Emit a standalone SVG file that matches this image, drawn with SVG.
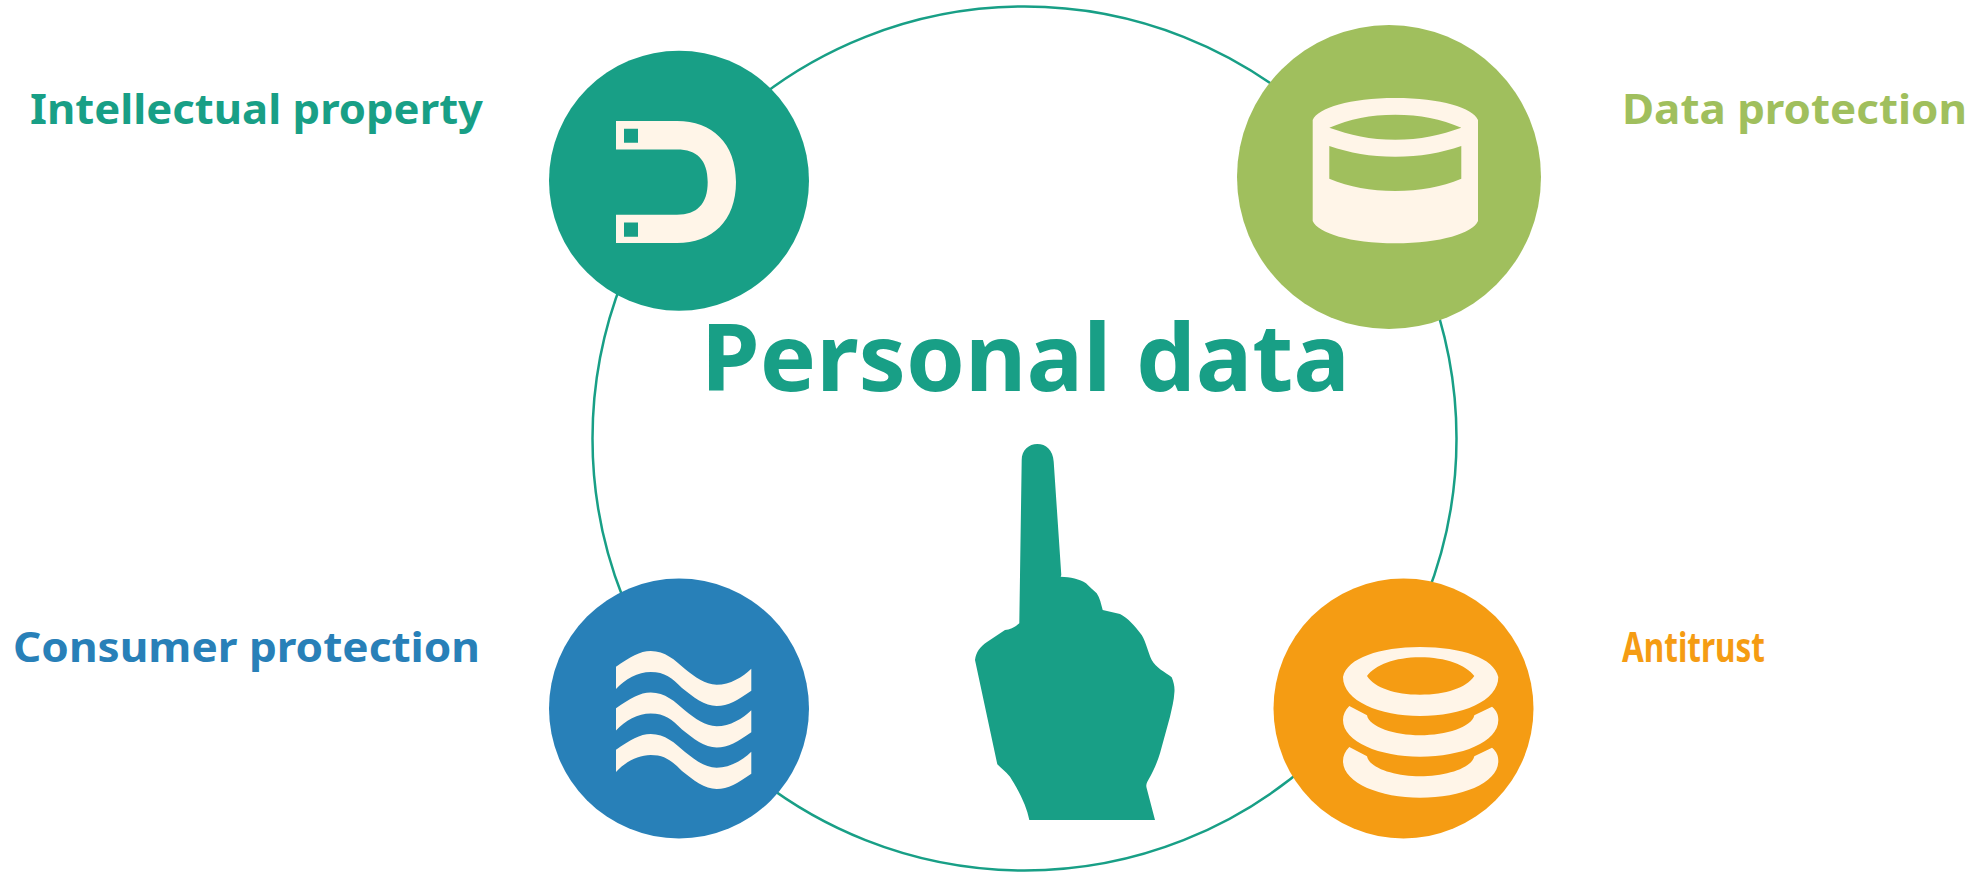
<svg xmlns="http://www.w3.org/2000/svg" width="1982" height="872" viewBox="0 0 1982 872">
<style>
.lbl{font-family:"Noto Sans","Open Sans",sans-serif;font-weight:700;font-size:41px}
.ico{fill:#fff5e8;fill-rule:evenodd}
</style>
<rect width="1982" height="872" fill="#fff"/>
<g id="connectors"><circle cx="1024.5" cy="438.5" r="432" fill="none" stroke="#189f86" stroke-width="2.5"/></g>
<g id="ip">
<circle cx="679" cy="180.7" r="130" fill="#189f86"/>
<path class="ico" d="M616 121H677C712 121 736 143 736 182C736 221 712 243 677 243H616V214.7H677C697 214.7 707.7 204 707.7 182C707.7 160 697 149.5 677 149.5H616ZM624 128.7V142.7H638V128.7ZM624 222.5V236.7H638V222.5Z"/>
<text class="lbl" x="30" y="124" fill="#189f86" textLength="453" lengthAdjust="spacingAndGlyphs">Intellectual property</text>
</g>
<g id="data">
<circle cx="1389" cy="177" r="152" fill="#a0bf5d"/>
<path class="ico" d="M1312.7 120C1318 108 1350 98 1395.3 98C1441 98 1473 108 1478 120V221C1473 233 1441 243.3 1395.3 243.3C1350 243.3 1318 233 1312.7 221ZM1329.3 127.7C1350 135 1370 139.7 1395.3 139.7C1420 139.7 1441 135 1461.3 127.7C1441 119 1420 114.7 1395.3 114.7C1370 114.7 1350 119 1329.3 127.7ZM1329.3 146V178.7C1350 187 1370 191 1395.3 191C1420 191 1441 187 1461.3 178.7V146C1441 153 1420 156.7 1395.3 156.7C1370 156.7 1350 153 1329.3 146Z"/>
<text class="lbl" x="1622" y="124" fill="#a0bf5d" textLength="345" lengthAdjust="spacingAndGlyphs">Data protection</text>
</g>
<g id="consumer">
<circle cx="679" cy="708.5" r="130" fill="#2880b8"/>
<path id="wave" class="ico" d="M616 666.7C630 657 640 651 650.7 651C665 651 675 660 685 669C695 677 705 684.7 716.7 684.7C730 684.7 743 677 751.3 668.7V690.7C738 700 728 706 716.7 706C705 706 693 697 682 688C672 678 665 672 650.7 672C638 672 625 679 616 689Z"/>
<path class="ico" d="M616 708.2C630 698.5 640 692.5 650.7 692.5C665 692.5 675 701.500 685 710.500C695 718.500 705 726.200 716.700 726.200C730 726.200 743 718.500 751.300 710.200V732.200C738 741.500 728 747.500 716.700 747.500C705 747.500 693 738.500 682 729.500C672 719.500 665 713.500 650.700 713.500C638 713.500 625 720.500 616 730.500Z"/>
<path class="ico" d="M616 749.700C630 740 640 734 650.700 734C665 734 675 743 685 752C695 760 705 767.700 716.700 767.700C730 767.700 743 760 751.300 751.700V773.700C738 783 728 789 716.700 789C705 789 693 780 682 771C672 761 665 755 650.700 755C638 755 625 762 616 772Z"/>
<text class="lbl" x="13" y="662" fill="#2880b8" textLength="467" lengthAdjust="spacingAndGlyphs">Consumer protection</text>
</g>
<g id="antitrust">
<circle cx="1403.500" cy="708.500" r="130" fill="#f59c13"/>
<path class="ico" d="M1343 677C1347 658 1380 647 1420 647C1462 647 1494 658 1498.300 677C1498.300 701 1462 716 1420 716C1380 716 1343 701 1343 677ZM1367 676C1375 688 1395 694.700 1420 694.700C1446 694.700 1466 688 1474.300 676C1466 665 1446 657.300 1420 657.300C1395 657.300 1375 665 1367 676Z"/>
<path class="ico" d="M1349.300 706L1367 715.300C1369 727 1395 735.300 1420 735.300C1446 735.300 1472 727 1474.300 715.300L1492 706.700C1497 711 1498.300 715 1498.300 720C1498.300 742 1462 756.700 1420 756.700C1380 756.700 1343 742 1343 720C1343 715 1345 710 1349.300 706Z"/>
<path class="ico" d="M1349.300 747L1367 756.300C1369 768 1395 776.300 1420 776.300C1446 776.300 1472 768 1474.300 756.300L1492 747.700C1497 752 1498.300 756 1498.300 761C1498.300 783 1462 797.700 1420 797.700C1380 797.700 1343 783 1343 761C1343 756 1345 751 1349.300 747Z"/>
<text class="lbl" x="1622" y="662" fill="#f59c13" textLength="143" lengthAdjust="spacingAndGlyphs">Antitrust</text>
</g>
<g id="center">
<text x="701" y="391" font-family="Noto Sans,Open Sans,sans-serif" font-weight="700" font-size="94" fill="#189f86" textLength="649" lengthAdjust="spacingAndGlyphs">Personal data</text>
<path fill="#189f86" d="M1021.700 460C1021.700 450 1029 444 1037.300 444C1046 444 1053 450 1053.700 461.700L1061.300 575L1060.700 576.700C1070 577 1080 579 1086 583.300C1090 587 1093 590 1096.700 593.300C1100 598 1101 604 1102.700 610L1120 614C1128 618 1135 626 1141.700 635C1146 642 1148 652 1151.700 660C1156 668 1165 672 1171.700 677.300C1174 683 1175 688 1174.300 693.300C1174 700 1172 708 1170 716.700L1160 753.300C1157 763 1153 772 1148.300 780C1146 784 1146 786 1146.700 788.300L1155 820H1029.300C1027 808 1021 794 1010 776.700C1005 771 1001 768 997.300 764.300L975 660C976 652 980 646.700 987 642C993 638 999 634 1005 630C1010 629.500 1016 626.500 1019.300 623.300Z"/>
</g>
</svg>
